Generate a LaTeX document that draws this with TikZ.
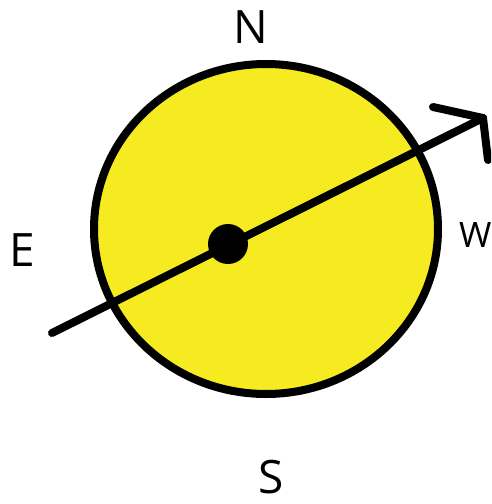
\documentclass[tikz,border=0pt]{standalone}
\usepackage{fontspec}
\setmainfont{Open Sans}
\definecolor{sunyellow}{RGB}{246,235,32}
\begin{document}
\begin{tikzpicture}[x=1pt,y=-1pt,
  thick line/.style={line width=8pt, line cap=round, line join=round},
  label text/.style={inner sep=0pt, font=\fontsize{46}{46}\selectfont},
  small label/.style={inner sep=0pt, font=\fontsize{35}{35}\selectfont}]
\useasboundingbox (0,0) rectangle (491,504);
\clip (0,0) rectangle (491,504);
\fill[white] (0,0) rectangle (491,504);
% disc
\draw[thick line, fill=sunyellow] (266,229) ellipse [x radius=172, y radius=165];
\node[circle, fill=black, minimum size=40pt, inner sep=0pt] (dot) at (228,244) {};
% axis line with open arrowhead
\coordinate (tail) at (52,333);
\coordinate (tip) at (483,118);
\coordinate (armA) at (433,107);
\coordinate (armB) at (488,160);
\draw[thick line] (tail) -- (tip);
\draw[thick line] (armA) -- (tip) -- (armB);
% labels
\node[label text] (N) at (251,27) {N};
\node[label text] (E) at (22,250) {E};
\node[label text] (S) at (271,477) {S};
\node[small label, anchor=west] (W) at (459,235) {W};
\end{tikzpicture}
\end{document}
